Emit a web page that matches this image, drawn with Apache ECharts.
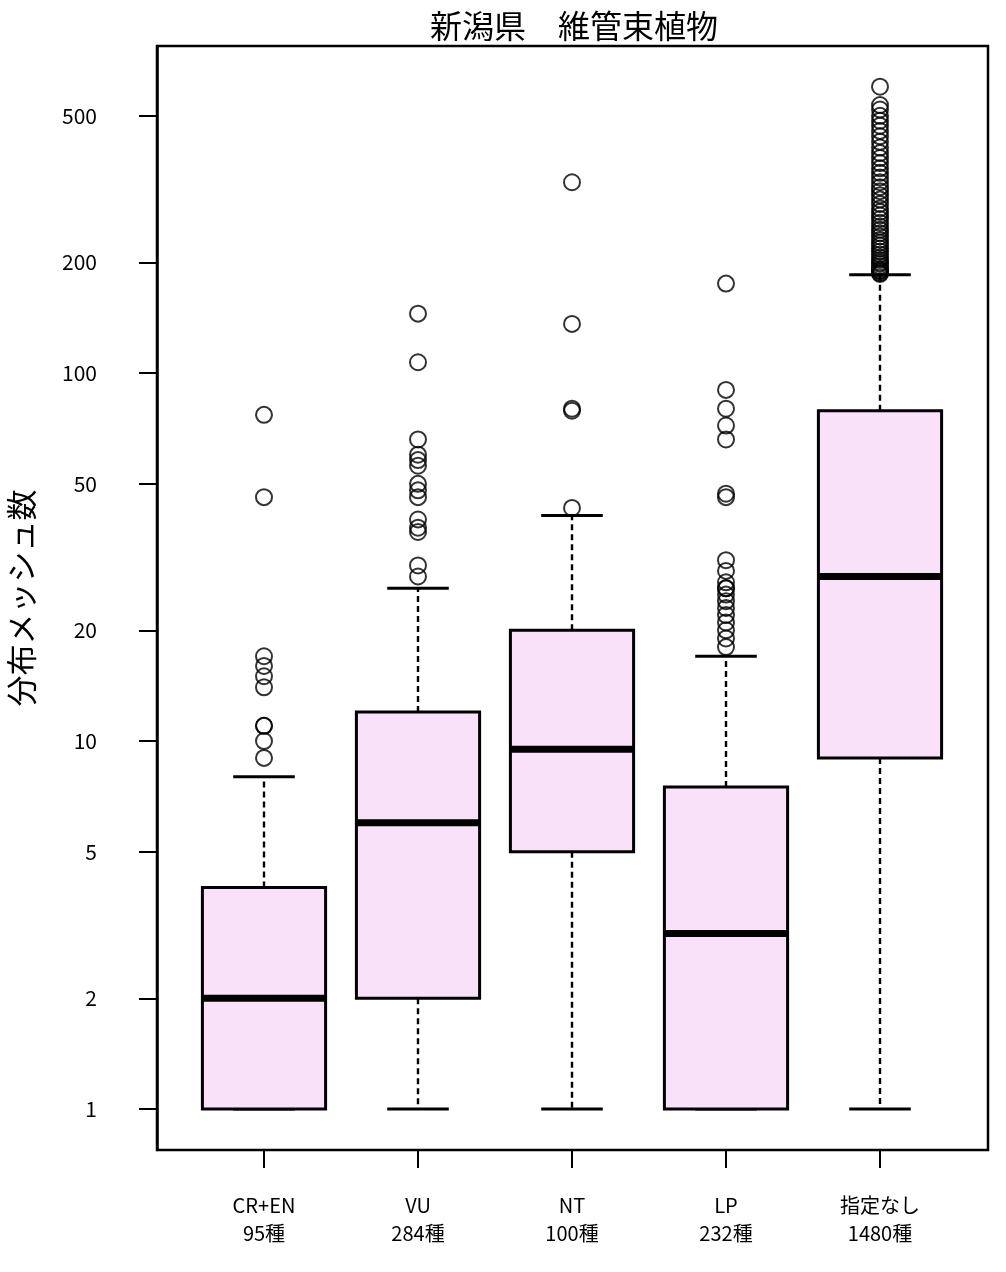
<!DOCTYPE html>
<html>
<head>
<meta charset="utf-8">
<script src="https://cdn.jsdelivr.net/npm/echarts@6/dist/echarts.min.js"></script>
<style>
html,body{margin:0;padding:0;background:#fff;}
#main{width:1006px;height:1272px;}
</style>
</head>
<body>
<div id="main"></div>
<script>
// ---- data ----
var categories = ['CR+EN\n95種', 'VU\n284種', 'NT\n100種', 'LP\n232種', '指定なし\n1480種'];
// [lower whisker, Q1, median, Q3, upper whisker]
var boxStats = [
  [1, 1, 2, 4, 8],
  [1, 2, 6, 12, 26],
  [1, 5, 9.5, 20, 41],
  [1, 1, 3, 7.5, 17],
  [1, 9, 28, 79, 185]
];
var outliersCREN = [9, 10, 11, 11, 14, 15, 16, 17, 46, 77];
var outliersVU = [28, 30, 37, 38, 40, 46, 48, 50, 56, 58, 60, 66, 107, 145];
var outliersNT = [43, 79, 80, 136, 330];
var outliersLP = [18, 19, 20, 21, 22, 23, 24, 25, 26, 26, 27, 29, 31, 46, 47, 66, 72, 80, 90, 175];
var outliersNone = [186, 187, 189, 190, 192, 195, 198, 200, 203, 206, 210, 214, 218, 222, 226, 230,
  235, 240, 245, 250, 256, 262, 268, 274, 280, 288, 296, 304, 312, 320, 330, 340, 350, 360,
  372, 384, 396, 410, 425, 440, 455, 470, 485, 500, 520, 535, 600];
var yTicks = [1, 2, 5, 10, 20, 50, 100, 200, 500];
var titleText = '新潟県　維管束植物';
var yAxisTitle = '分布メッシュ数';

// ---- build ----
var outlierGroups = [outliersCREN, outliersVU, outliersNT, outliersLP, outliersNone];
var boxData = boxStats.map(function (s, i) { return [i].concat(s); });
var outlierData = [];
outlierGroups.forEach(function (g, i) { g.forEach(function (v) { outlierData.push([i, v]); }); });

var yMin = 0.774, yMax = 774;
var numFont = "'Liberation Sans Narrow', 'Noto Sans CJK JP', sans-serif";
var jpFont = "'Noto Sans CJK JP', sans-serif";

var chart = echarts.init(document.getElementById('main'), null, {renderer: 'canvas'});
var option = {
  animation: false,
  backgroundColor: '#ffffff',
  title: {
    text: titleText,
    left: 569,
    textAlign: 'center',
    top: 5,
    textStyle: {fontFamily: jpFont, fontSize: 32, fontWeight: 'normal', color: '#000'}
  },
  grid: [
    {left: 187, top: 46, width: 770, height: 1104, show: false, containLabel: false, outerBoundsMode: 'none'},
    {left: 157, top: 46, width: 831, height: 1104, show: true, borderColor: '#000', borderWidth: 2.5,
      backgroundColor: 'transparent', containLabel: false, outerBoundsMode: 'none'}
  ],
  xAxis: [
    {
      gridIndex: 0, type: 'category', data: categories, boundaryGap: true,
      axisLine: {show: false},
      axisTick: {show: true, alignWithLabel: true, length: 18, inside: false, lineStyle: {color: '#000', width: 2}},
      axisLabel: {margin: 41, fontFamily: numFont, fontSize: 20, lineHeight: 28, color: '#000'},
      splitLine: {show: false}
    },
    {gridIndex: 1, type: 'value', min: 0, max: 1, show: false}
  ],
  yAxis: [
    {gridIndex: 0, type: 'log', logBase: 10, min: yMin, max: yMax, show: false, splitLine: {show: false}},
    {
      gridIndex: 1, type: 'log', logBase: 10, min: yMin, max: yMax,
      name: yAxisTitle, nameLocation: 'middle', nameGap: 120, nameRotate: 90,
      nameTextStyle: {fontFamily: jpFont, fontSize: 31, color: '#000'},
      axisLine: {show: true, lineStyle: {color: '#000', width: 2.5}},
      axisTick: {show: true, length: 18, inside: false, customValues: yTicks, lineStyle: {color: '#000', width: 2}},
      axisLabel: {show: true, margin: 60, customValues: yTicks, fontFamily: numFont, fontSize: 21, color: '#000',
        formatter: function (v) { return String(Math.round(v)); }},
      splitLine: {show: false}, minorTick: {show: false}
    }
  ],
  series: [
    {
      type: 'custom',
      xAxisIndex: 0, yAxisIndex: 0,
      data: boxData,
      encode: {x: 0, y: [1, 2, 3, 4, 5]},
      renderItem: function (params, api) {
        var x = api.value(0);
        var lo = api.coord([x, api.value(1)]);
        var q1 = api.coord([x, api.value(2)]);
        var md = api.coord([x, api.value(3)]);
        var q3 = api.coord([x, api.value(4)]);
        var hi = api.coord([x, api.value(5)]);
        var band = api.size([1, 1], [x, 10])[0];
        var bw = band * 0.8;
        var sw = bw / 2;
        var cx = lo[0];
        var dashStyle = {stroke: '#000', lineWidth: 2.4, lineDash: [6, 4], fill: null};
        var solid = {stroke: '#000', lineWidth: 3, fill: null};
        return {
          type: 'group',
          children: [
            {type: 'line', shape: {x1: cx, y1: q1[1], x2: cx, y2: lo[1]}, style: dashStyle},
            {type: 'line', shape: {x1: cx, y1: q3[1], x2: cx, y2: hi[1]}, style: dashStyle},
            {type: 'line', shape: {x1: cx - sw / 2, y1: lo[1], x2: cx + sw / 2, y2: lo[1]}, style: solid},
            {type: 'line', shape: {x1: cx - sw / 2, y1: hi[1], x2: cx + sw / 2, y2: hi[1]}, style: solid},
            {type: 'rect', shape: {x: cx - bw / 2, y: q3[1], width: bw, height: q1[1] - q3[1]},
              style: {fill: '#F9E1F9', stroke: '#000', lineWidth: 3}},
            {type: 'line', shape: {x1: cx - bw / 2, y1: md[1], x2: cx + bw / 2, y2: md[1]},
              style: {stroke: '#000', lineWidth: 7, lineCap: 'butt'}}
          ]
        };
      },
      z: 2
    },
    {
      type: 'scatter',
      xAxisIndex: 0, yAxisIndex: 0,
      data: outlierData,
      symbol: 'circle',
      symbolSize: 16,
      itemStyle: {color: 'rgba(0,0,0,0)', borderColor: '#000', borderWidth: 2},
      z: 3
    }
  ]
};
chart.setOption(option);
</script>
</body>
</html>
